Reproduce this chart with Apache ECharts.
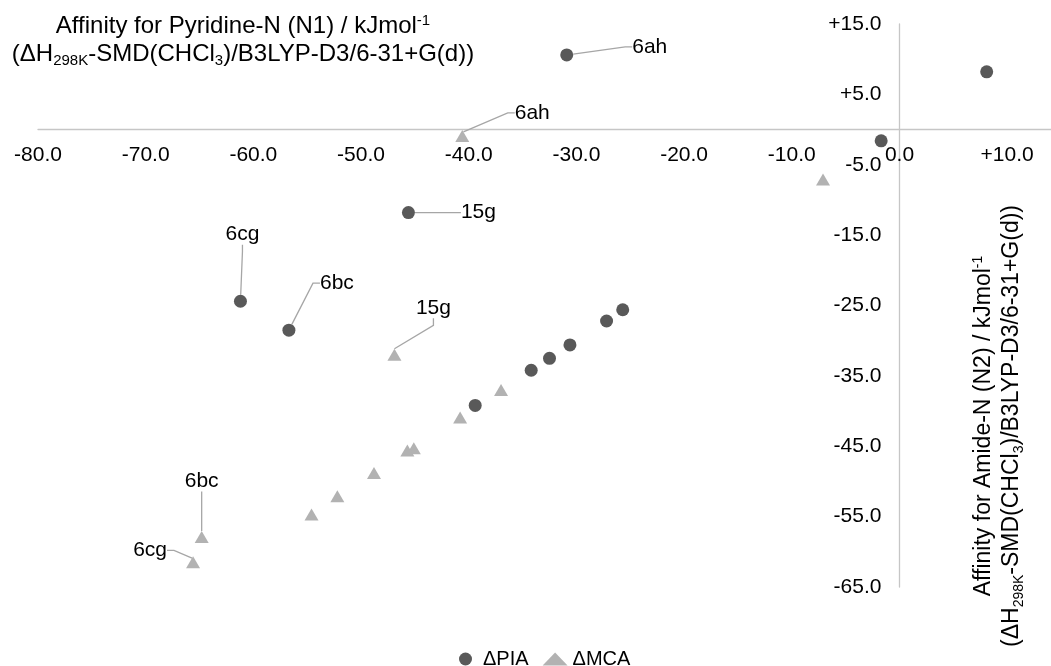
<!DOCTYPE html>
<html>
<head>
<meta charset="utf-8">
<script src="https://cdn.jsdelivr.net/npm/echarts@6/dist/echarts.min.js"></script>
<style>html,body{margin:0;padding:0;background:#fff}#c{width:1051px;height:666px}</style>
</head>
<body>
<div id="c"></div>
<script>
// ---- data ----
const xTicks = [-80, -70, -60, -50, -40, -30, -20, -10, 0, 10];
const yTicks = [-65, -55, -45, -35, -25, -15, -5, 5, 15];
const seriesNames = ['ΔPIA', 'ΔMCA'];
const piaX = [-30.9, 8.1, -1.7, -45.6, -61.2, -56.7, -25.7, -27.2, -30.6, -32.5, -34.2, -39.4];
const piaY = [10.6, 8.2, -1.6, -11.8, -24.4, -28.5, -25.6, -27.2, -30.6, -32.5, -34.2, -39.2];
const piaLabels = ['6ah', '', '', '15g', '6cg', '6bc', '', '', '', '', '', ''];
const mcaX = [-40.6, -7.1, -46.9, -37.0, -40.8, -45.1, -45.7, -48.8, -52.2, -54.6, -64.8, -65.6];
const mcaY = [-0.9, -7.1, -32.0, -37.0, -40.9, -45.3, -45.6, -48.8, -52.1, -54.7, -57.9, -61.5];
const mcaLabels = ['6ah', '', '15g', '', '', '', '', '', '', '', '6bc', '6cg'];

// ---- layout / styling ----
const FONT = '"Liberation Sans", Arial, sans-serif';
const X_MIN = -80, X_MAX = 15, Y_MIN = -65, Y_MAX = 15;
const GL = 38, GT = 24, GW = 1023, GH = 563;
const xZeroPx = GL + (0 - X_MIN) / (X_MAX - X_MIN) * GW;
const yZeroPx = GT + (Y_MAX - 0) / (Y_MAX - Y_MIN) * GH;

const labelOffsets = [
  { '6ah': [83, -8], '15g': [70, 0], '6cg': [2, -67], '6bc': [48, -47] },
  { '6ah': [70, -23], '15g': [39, -47], '6bc': [0, -56], '6cg': [-43, -12] }
];
function fmt(v) { return v > 0 ? '+' + v.toFixed(1) : v.toFixed(1); }
function buildData(xs, ys, labels) {
  return xs.map((x, i) => {
    const item = { value: [x, ys[i]], name: labels[i] };
    if (labels[i]) {
      item.label = { show: true };
      item.labelLine = { show: true };
    }
    return item;
  });
}
const labelStyle = {
  show: false, position: 'inside', formatter: p => p.name,
  color: '#000', fontSize: 21, fontFamily: FONT, padding: [4, 7]
};
const lineStyle = { show: false, length2: 7, lineStyle: { color: '#a6a6a6', width: 1.3 } };
function titleRich(size, small) {
  return {
    n: { fontSize: size, lineHeight: 28, fontFamily: FONT, fill: '#000' },
    sup: { fontSize: small, lineHeight: small, verticalAlign: 'top', fontFamily: FONT, fill: '#000', padding: [1, 0, 0, 0] },
    sub: { fontSize: small, lineHeight: small, verticalAlign: 'bottom', fontFamily: FONT, fill: '#000' }
  };
}

const chart = echarts.init(document.getElementById('c'), null, { renderer: 'canvas' });
chart.setOption({
  animation: false,
  backgroundColor: '#fff',
  textStyle: { fontFamily: FONT },
  grid: { left: GL, top: GT, width: GW, height: GH, containLabel: false, outerBoundsMode: 'none' },
  legend: {
    data: seriesNames, left: 454, top: 644, itemWidth: 25, itemHeight: 13, itemGap: 14,
    textStyle: { fontSize: 20, color: '#000', fontFamily: FONT }
  },
  xAxis: {
    type: 'value', min: X_MIN, max: X_MAX, position: 'bottom', offset: -(GT + GH - yZeroPx),
    axisLine: { onZero: false, lineStyle: { color: '#c6c6c6', width: 1.3 } },
    axisTick: { show: false }, splitLine: { show: false },
    axisLabel: { customValues: xTicks, formatter: fmt, fontSize: 21, color: '#000', margin: 15, fontFamily: FONT }
  },
  yAxis: {
    type: 'value', min: Y_MIN, max: Y_MAX, position: 'left', offset: -(xZeroPx - GL),
    axisLine: { onZero: false, lineStyle: { color: '#c6c6c6', width: 1.3 } },
    axisTick: { show: false }, splitLine: { show: false },
    axisLabel: { customValues: yTicks, formatter: fmt, fontSize: 21, color: '#000', margin: 18, fontFamily: FONT }
  },
  series: [
    {
      name: seriesNames[0], type: 'scatter', symbol: 'circle', symbolSize: 13,
      itemStyle: { color: '#595959', opacity: 1 },
      data: buildData(piaX, piaY, piaLabels),
      label: labelStyle, labelLine: lineStyle,
      labelLayout: p => { const o = labelOffsets[0][piaLabels[p.dataIndex]]; return o ? { dx: o[0], dy: o[1] } : {}; },
      z: 3
    },
    {
      name: seriesNames[1], type: 'scatter', symbol: 'triangle', symbolSize: [14, 12],
      itemStyle: { color: '#b2b2b2', opacity: 1 },
      data: buildData(mcaX, mcaY, mcaLabels),
      label: labelStyle, labelLine: lineStyle,
      labelLayout: p => { const o = labelOffsets[1][mcaLabels[p.dataIndex]]; return o ? { dx: o[0], dy: o[1] } : {}; },
      z: 2
    }
  ],
  graphic: [
    {
      type: 'text', x: 243, y: 12,
      style: {
        text: '{n|Affinity for Pyridine-N (N1) / kJmol}{sup|-1}\n{n|(ΔH}{sub|298K}{n|-SMD(CHCl}{sub|3}{n|)/B3LYP-D3/6-31+G(d))}',
        align: 'center', verticalAlign: 'top', fill: '#000', font: '24px ' + FONT,
        rich: titleRich(24, 15)
      }
    },
    {
      type: 'text', x: 998, y: 426, rotation: Math.PI / 2,
      style: {
        text: '{n|Affinity for Amide-N (N2) / kJmol}{sup|-1}\n{n|(ΔH}{sub|298K}{n|-SMD(CHCl}{sub|3}{n|)/B3LYP-D3/6-31+G(d))}',
        align: 'center', verticalAlign: 'middle', fill: '#000', font: '23px ' + FONT,
        rich: titleRich(23, 14)
      }
    }
  ]
});
</script>
</body>
</html>
